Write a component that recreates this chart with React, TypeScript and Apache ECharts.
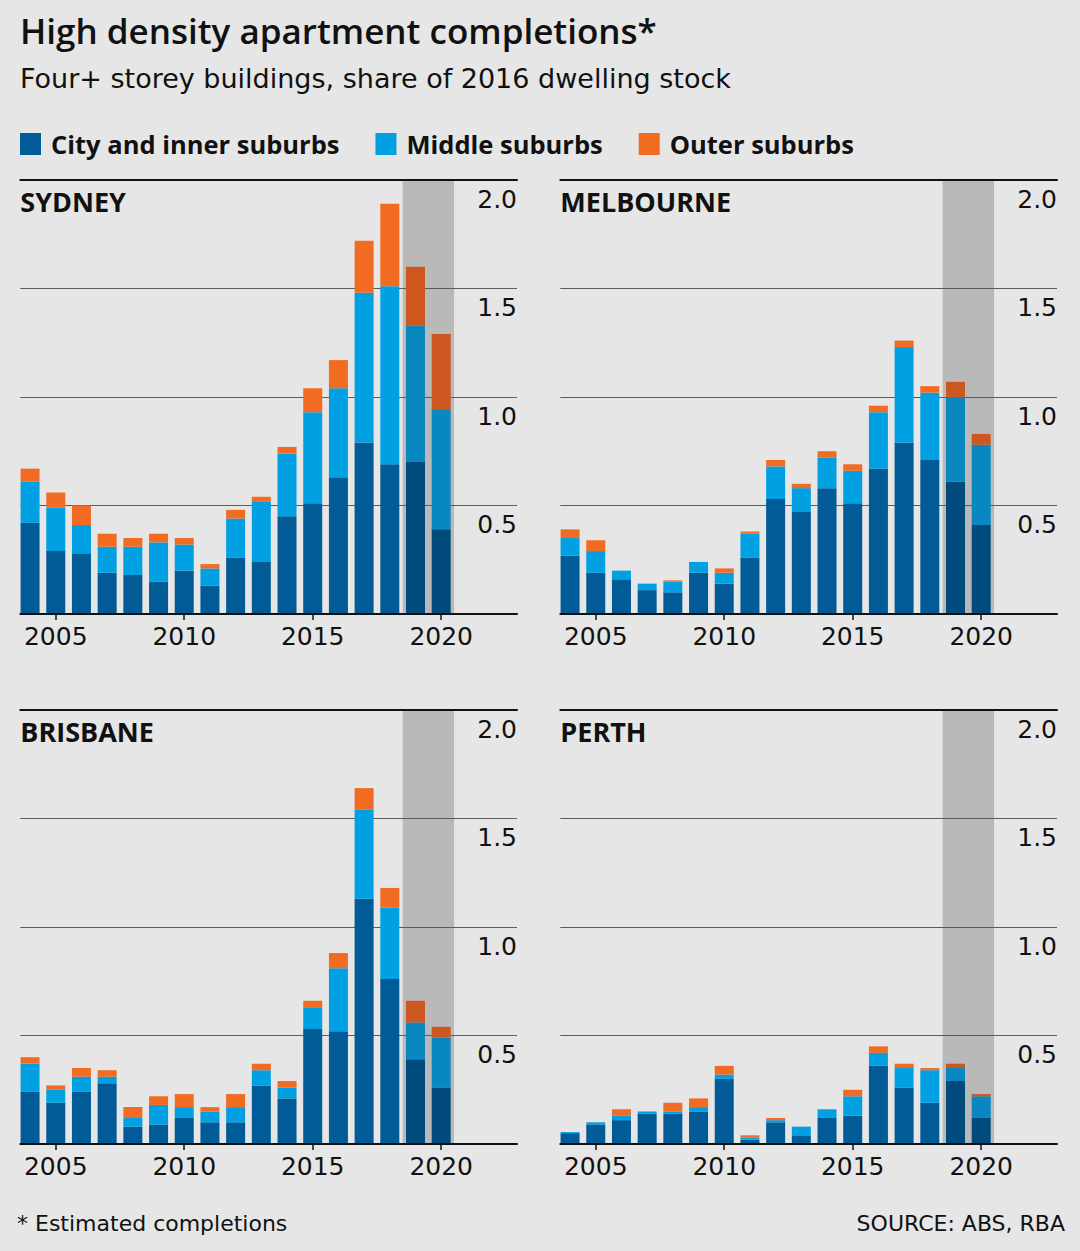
import React, { useEffect, useRef } from "react";
import * as echarts from "echarts";

// ---- Data (share of 2016 dwelling stock, %) ----
const YEARS = ["2004", "2005", "2006", "2007", "2008", "2009", "2010", "2011", "2012", "2013", "2014", "2015", "2016", "2017", "2018", "2019", "2020"];
const X_TICK_YEARS = [2005, 2010, 2015, 2020];
const SEGMENT_NAMES = ["City and inner suburbs", "Middle suburbs", "Outer suburbs"];
const PANEL_NAMES = ["SYDNEY", "MELBOURNE", "BRISBANE", "PERTH"];
const ESTIMATE_START = 2019; // estimated completions (shaded)
const ESTIMATE_END = 2020;

const SYDNEY_CITY = [0.42, 0.29, 0.28, 0.19, 0.18, 0.15, 0.2, 0.13, 0.26, 0.24, 0.45, 0.51, 0.63, 0.79, 0.69, 0.7, 0.39];
const SYDNEY_MIDDLE = [0.19, 0.2, 0.13, 0.12, 0.13, 0.18, 0.12, 0.08, 0.18, 0.28, 0.29, 0.42, 0.41, 0.69, 0.82, 0.63, 0.55];
const SYDNEY_OUTER = [0.06, 0.07, 0.09, 0.06, 0.04, 0.04, 0.03, 0.02, 0.04, 0.02, 0.03, 0.11, 0.13, 0.24, 0.38, 0.27, 0.35];

const MELBOURNE_CITY = [0.27, 0.19, 0.16, 0.11, 0.1, 0.19, 0.14, 0.26, 0.53, 0.47, 0.58, 0.51, 0.67, 0.79, 0.71, 0.61, 0.41];
const MELBOURNE_MIDDLE = [0.08, 0.1, 0.04, 0.03, 0.05, 0.05, 0.05, 0.11, 0.15, 0.11, 0.14, 0.15, 0.26, 0.44, 0.31, 0.39, 0.37];
const MELBOURNE_OUTER = [0.04, 0.05, 0, 0, 0.005, 0, 0.02, 0.01, 0.03, 0.02, 0.03, 0.03, 0.03, 0.03, 0.03, 0.07, 0.05];

const BRISBANE_CITY = [0.24, 0.19, 0.24, 0.28, 0.08, 0.09, 0.12, 0.1, 0.1, 0.27, 0.21, 0.53, 0.52, 1.13, 0.76, 0.39, 0.26];
const BRISBANE_MIDDLE = [0.13, 0.06, 0.07, 0.03, 0.04, 0.09, 0.05, 0.05, 0.07, 0.07, 0.05, 0.1, 0.29, 0.41, 0.33, 0.17, 0.23];
const BRISBANE_OUTER = [0.03, 0.02, 0.04, 0.03, 0.05, 0.04, 0.06, 0.02, 0.06, 0.03, 0.03, 0.03, 0.07, 0.1, 0.09, 0.1, 0.05];

const PERTH_CITY = [0.05, 0.09, 0.11, 0.14, 0.14, 0.15, 0.3, 0.02, 0.1, 0.04, 0.12, 0.13, 0.36, 0.26, 0.19, 0.29, 0.12];
const PERTH_MIDDLE = [0.005, 0.01, 0.02, 0.01, 0.01, 0.02, 0.02, 0.01, 0.01, 0.04, 0.04, 0.09, 0.06, 0.09, 0.15, 0.06, 0.1];
const PERTH_OUTER = [0, 0, 0.03, 0, 0.04, 0.04, 0.04, 0.01, 0.01, 0, 0, 0.03, 0.03, 0.02, 0.01, 0.02, 0.01];

const PANEL_DATA = [
  [SYDNEY_CITY, SYDNEY_MIDDLE, SYDNEY_OUTER],
  [MELBOURNE_CITY, MELBOURNE_MIDDLE, MELBOURNE_OUTER],
  [BRISBANE_CITY, BRISBANE_MIDDLE, BRISBANE_OUTER],
  [PERTH_CITY, PERTH_MIDDLE, PERTH_OUTER],
];

// ---- Styling ----
const BG = "#e6e6e6";
const SHADE = "#b9b9b9";
const INK = "#111111";
const COLORS = ["#005b96", "#00a0e3", "#f26b22"];
const SHADED_COLORS = ["#004a7c", "#0887c1", "#cc571f"];
const BOLD_FONT = "'Open Sans', 'Noto Sans', sans-serif";
const TEXT_FONT = "'DejaVu Sans', sans-serif";

const PANEL_LEFT = [20.3, 560.3, 20.3, 560.3];
const PANEL_TOP = [180, 180, 710, 710];
const PANEL_W = 496.7;
const PANEL_H = 434;
const X_MIN = 2003.62;
const X_MAX = 2022.95;

export default function App() {
  const ref = useRef<HTMLDivElement>(null);

  useEffect(() => {
    document.body.style.margin = "0";
    document.body.style.background = BG;
    if (!ref.current) return;
    const chart = echarts.init(ref.current, null, { renderer: "svg" });

    const n = PANEL_NAMES.length;
    const pxPerYear = PANEL_W / (X_MAX - X_MIN);
    const firstYear = Number(YEARS[0]);

    const grids: any[] = [];
    const xAxes: any[] = [];
    const yAxes: any[] = [];
    const series: any[] = [];

    // wide grids (axes, gridlines, shading)
    for (let i = 0; i < n; i++) {
      grids.push({ left: PANEL_LEFT[i], top: PANEL_TOP[i], width: PANEL_W, height: PANEL_H });
    }
    // narrow grids holding the category bars, aligned with the year scale
    for (let i = 0; i < n; i++) {
      grids.push({
        left: PANEL_LEFT[i] + (firstYear - 0.5 - X_MIN) * pxPerYear,
        top: PANEL_TOP[i],
        width: YEARS.length * pxPerYear,
        height: PANEL_H,
      });
    }

    // y axes: wide (visible) 0..n-1, narrow (hidden) n..2n-1
    for (let i = 0; i < n; i++) {
      yAxes.push({
        gridIndex: i,
        type: "value",
        min: 0,
        max: 2,
        interval: 0.5,
        position: "right",
        z: 1,
        axisLine: { show: false },
        axisTick: { show: false },
        splitLine: { show: true, lineStyle: { color: "#5c5c5c", width: 1 } },
        axisLabel: {
          inside: true,
          margin: 0,
          showMinLabel: false,
          formatter: (v: number) => v.toFixed(1),
          fontFamily: TEXT_FONT,
          fontSize: 25,
          color: INK,
          verticalAlign: "top",
          lineHeight: 38,
        },
      });
    }
    for (let i = 0; i < n; i++) {
      yAxes.push({ gridIndex: n + i, type: "value", min: 0, max: 2, show: false });
    }

    // x axes: wide bottom 0..n-1, wide top rule n..2n-1, narrow category 2n..3n-1
    for (let i = 0; i < n; i++) {
      xAxes.push({
        gridIndex: i,
        type: "value",
        min: X_MIN,
        max: X_MAX,
        position: "bottom",
        z: 3,
        splitLine: { show: false },
        axisLine: { onZero: false, lineStyle: { color: INK, width: 2 } },
        axisTick: { show: true, customValues: X_TICK_YEARS, length: 6, lineStyle: { color: INK, width: 1.5 } },
        axisLabel: {
          customValues: X_TICK_YEARS,
          formatter: (v: number) => String(v),
          fontFamily: TEXT_FONT,
          fontSize: 25,
          color: INK,
          margin: 10,
        },
      });
    }
    for (let i = 0; i < n; i++) {
      xAxes.push({
        gridIndex: i,
        type: "value",
        min: X_MIN,
        max: X_MAX,
        position: "top",
        z: 3,
        splitLine: { show: false },
        axisLine: { onZero: false, lineStyle: { color: INK, width: 2 } },
        axisTick: { show: false },
        axisLabel: { show: false },
      });
    }
    for (let i = 0; i < n; i++) {
      xAxes.push({
        gridIndex: n + i,
        type: "category",
        data: YEARS,
        boundaryGap: true,
        axisLine: { show: false },
        axisTick: { show: false },
        axisLabel: { show: false },
        splitLine: { show: false },
      });
    }

    // shading for estimated years
    for (let i = 0; i < n; i++) {
      series.push({
        type: "line",
        xAxisIndex: i,
        yAxisIndex: i,
        data: [],
        silent: true,
        markArea: {
          silent: true,
          z: 0,
          itemStyle: { color: SHADE },
          data: [[{ xAxis: ESTIMATE_START - 0.5 }, { xAxis: ESTIMATE_END + 0.5 }]],
        },
      });
    }

    PANEL_DATA.forEach((segments, i) => {
      segments.forEach((vals, s) => {
        series.push({
          type: "bar",
          name: SEGMENT_NAMES[s],
          xAxisIndex: 2 * n + i,
          yAxisIndex: n + i,
          stack: "panel" + i,
          barWidth: 19,
          z: 2,
          itemStyle: { color: COLORS[s] },
          emphasis: { disabled: true },
          data: YEARS.map((yr, k) => ({
            value: vals[k],
            itemStyle: Number(yr) >= ESTIMATE_START ? { color: SHADED_COLORS[s] } : undefined,
          })),
        });
      });
    });

    const texts: any[] = [
      { type: "text", x: 20, y: 30, style: { text: "High density apartment completions*", fontFamily: BOLD_FONT, fontWeight: 600, fontSize: 35, fill: INK, verticalAlign: "middle" } },
      { type: "text", x: 20, y: 78, style: { text: "Four+ storey buildings, share of 2016 dwelling stock", fontFamily: TEXT_FONT, fontSize: 27, fill: INK, verticalAlign: "middle" } },
      { type: "text", x: 17, y: 1223, style: { text: "* Estimated completions", fontFamily: TEXT_FONT, fontSize: 22, fill: INK, verticalAlign: "middle" } },
      { type: "text", x: 1065, y: 1223, style: { text: "SOURCE: ABS, RBA", fontFamily: TEXT_FONT, fontSize: 22, fill: INK, align: "right", verticalAlign: "middle" } },
    ];
    PANEL_NAMES.forEach((name, i) => {
      texts.push({
        type: "text",
        x: PANEL_LEFT[i],
        y: PANEL_TOP[i] + 21.3,
        z: 10,
        style: { text: name, fontFamily: BOLD_FONT, fontWeight: "bold", fontSize: 27, fill: INK, verticalAlign: "middle" },
      });
    });

    chart.setOption({
      animation: false,
      backgroundColor: BG,
      textStyle: { fontFamily: TEXT_FONT },
      legend: {
        left: 20,
        top: 131,
        padding: 0,
        icon: "rect",
        itemWidth: 21,
        itemHeight: 22,
        itemGap: 36,
        selectedMode: false,
        data: SEGMENT_NAMES,
        textStyle: { fontFamily: BOLD_FONT, fontWeight: "bold", fontSize: 25.5, color: INK, padding: [0, 0, 0, 5] },
      },
      grid: grids,
      xAxis: xAxes,
      yAxis: yAxes,
      series,
      graphic: texts,
    });

    return () => chart.dispose();
  }, []);

  return <div ref={ref} style={{ width: 1080, height: 1251, background: BG }} />;
}
